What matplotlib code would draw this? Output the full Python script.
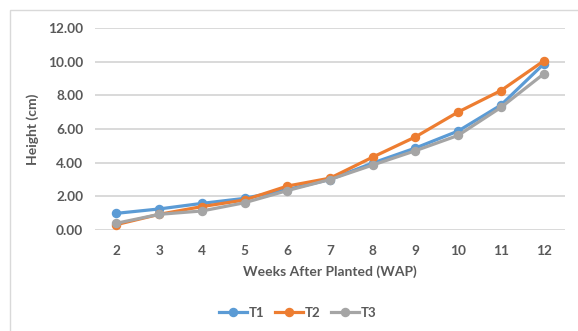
import matplotlib
matplotlib.use("Agg")
import matplotlib.pyplot as plt
from matplotlib.patches import Rectangle

weeks = [2, 3, 4, 5, 6, 7, 8, 9, 10, 11, 12]
t1 = [0.99, 1.25, 1.58, 1.88, 2.40, 3.00, 3.98, 4.87, 5.88, 7.42, 9.86]
t2 = [0.32, 0.93, 1.39, 1.78, 2.61, 3.08, 4.33, 5.53, 7.01, 8.28, 10.04]
t3 = [0.40, 0.93, 1.13, 1.62, 2.34, 3.00, 3.86, 4.71, 5.62, 7.28, 9.27]
series = {"T1": t1, "T2": t2, "T3": t3}
colors = {"T1": "#5B9BD5", "T2": "#ED7D31", "T3": "#A5A5A5"}
yticks = [0, 2, 4, 6, 8, 10, 12]

plt.rcParams['font.family'] = ['Lato', 'DejaVu Sans']
txt = "#595959"

fig = plt.figure(figsize=(5.78, 3.31), dpi=100)
fig.patches.append(Rectangle((10/578, -0.01), 1.0, 1 - 10/331 + 0.01,
                             transform=fig.transFigure, fill=False,
                             edgecolor="#d9d9d9", linewidth=1.0))
ax = fig.add_axes([95/578, 1 - 230/331, (565 - 95)/578, (230 - 28)/331])

for name, vals in series.items():
    ax.plot(weeks, vals, color=colors[name], linewidth=2.3, marker='o',
            markersize=5.8, label=name, zorder=3)

ax.set_xlim(1.5, 12.5)
ax.set_ylim(0, 12)
ax.set_yticks(yticks)
ax.set_yticklabels([f"{v:.2f}" for v in yticks])
ax.set_xticks(weeks)
ax.set_xticklabels([str(w) for w in weeks])
ax.grid(axis='y', color="#d9d9d9", linewidth=1.4)
ax.set_axisbelow(True)
for s in ax.spines.values():
    s.set_visible(False)
ax.tick_params(length=0, colors=txt, labelsize=9.8)
for lab in ax.get_xticklabels() + ax.get_yticklabels():
    lab.set_fontweight('bold')
ax.tick_params(axis='y', pad=8.5)
ax.tick_params(axis='x', pad=11)

ax.set_ylabel("Height (cm)", color=txt, fontsize=10, fontweight='bold', va='center')
ax.yaxis.set_label_coords((33 - 95) / 470, 0.5)
ax.set_xlabel("Weeks After Planted (WAP)", color=txt, fontsize=10, fontweight='bold', va='center')
ax.xaxis.set_label_coords(0.5, -(271.5 - 230) / 202)

fig.legend(loc='center', bbox_to_anchor=(298/578, 1 - 313/331), ncol=3, frameon=False,
           handlelength=2.1, columnspacing=0.8, handletextpad=0.15,
           prop={'size': 9.5, 'weight': 'bold'}, labelcolor=txt)

fig.savefig("out.png", dpi=100)
